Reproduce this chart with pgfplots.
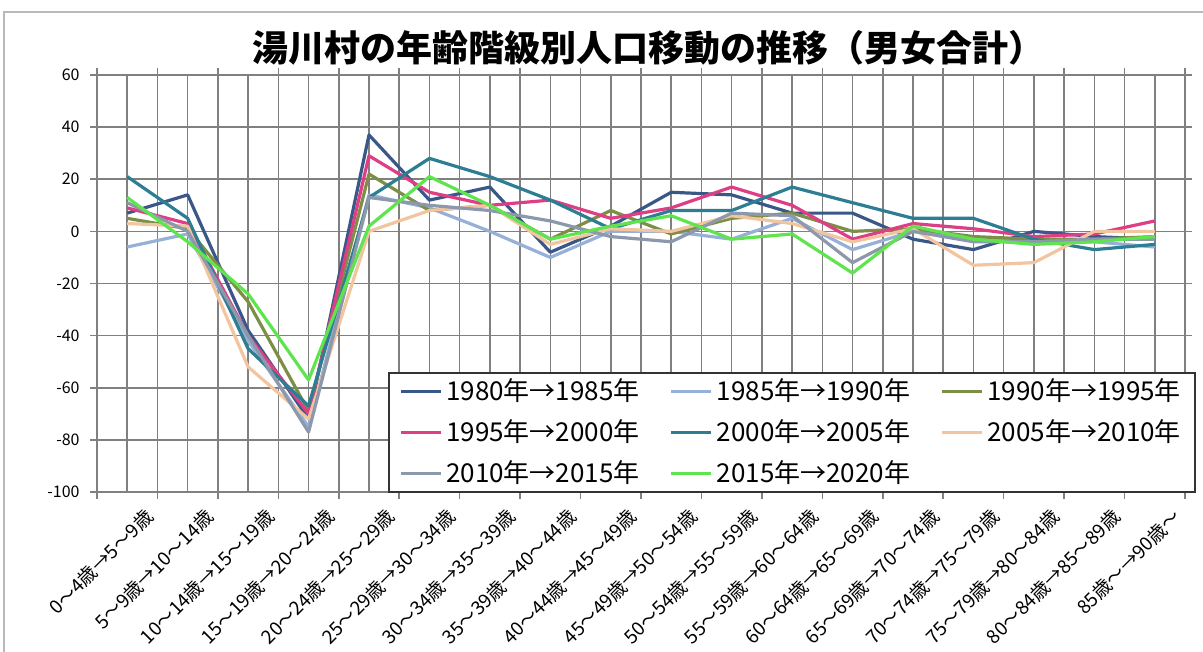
\documentclass[border=0pt]{standalone}
\usepackage{pgfplots}
\pgfplotsset{compat=1.18}
\usepackage{pgfplotstable}
\usepackage{fontspec}
\setmainfont{Noto Sans CJK JP}

\definecolor{cA}{RGB}{58,88,135}
\definecolor{cB}{RGB}{150,176,215}
\definecolor{cC}{RGB}{125,142,70}
\definecolor{cD}{RGB}{222,62,132}
\definecolor{cE}{RGB}{45,126,146}
\definecolor{cF}{RGB}{242,196,160}
\definecolor{cG}{RGB}{140,152,172}
\definecolor{cH}{RGB}{95,228,80}
\definecolor{gridc}{RGB}{128,128,128}

\pgfplotstableread{
x a b c d e f g h
0 7 -6 5 9 21 3 11 13
1 14 -1 1 3 5 2 0 -4
2 -38 -42 -27 -40 -45 -52 -40 -24
3 -72 -75 -69 -70 -67 -72 -77 -57
4 37 14 22 29 13 0 13 2
5 12 9 8 15 28 8 10 21
6 17 0 10 10 21 10 8 10
7 -8 -10 -3 12 12 -5 4 -3
8 2 0 8 5 1 1 -2 2
9 15 0 -1 9 8 0 -4 6
10 14 -3 5 17 8 6 7 -3
11 7 5 7 10 17 3 6 -1
12 7 -7 0 -3 11 -4 -12 -16
13 -3 0 1 3 5 1 0 2
14 -7 -3 -2 1 5 -13 -4 -3
15 0 -4 -3 -2 -3 -12 -4 -5
16 -2 -4 -3 -1 -7 0 -3 -4
17 -3 -6 -2 4 -5 0 -3 -2
}\data

\begin{document}
\begin{tikzpicture}
\path[use as bounding box] (0,0) rectangle (601.5pt,326pt);
\draw[gray!55, line width=1pt] (2pt,0) -- (2pt,320pt) -- (601.5pt,320pt);
\node[font=\bfseries\fontsize{18}{20}\selectfont] at (324pt,302pt) {湯川村の年齢階級別人口移動の推移（男女合計）};
\begin{axis}[
  at={(48.5pt,80pt)}, anchor=south west,
  scale only axis, width=544pt, height=208.5pt,
  xmin=-0.5, xmax=17.5, ymin=-100, ymax=60,
  xtick={0,...,17},
  minor xtick={-0.5,0.5,...,17.5},
  ytick={-100,-80,...,60},
  xticklabels={0～4歳→5～9歳,5～9歳→10～14歳,10～14歳→15～19歳,15～19歳→20～24歳,20～24歳→25～29歳,25～29歳→30～34歳,30～34歳→35～39歳,35～39歳→40～44歳,40～44歳→45～49歳,45～49歳→50～54歳,50～54歳→55～59歳,55～59歳→60～64歳,60～64歳→65～69歳,65～69歳→70～74歳,70～74歳→75～79歳,75～79歳→80～84歳,80～84歳→85～89歳,85歳～→90歳～},
  grid=both,
  major grid style={gridc, line width=0.8pt},
  minor grid style={gridc, line width=0.8pt},
  axis line style={gridc, line width=0.8pt},
  tick align=outside,
  major tick length=3.5pt, minor tick length=3.5pt,
  tick style={gridc, line width=0.8pt},
  xtick style={/pgfplots/major tick length=0pt},
  /pgf/number format/assume math mode=true,
  yticklabel style={font=\fontsize{8}{9}\selectfont, anchor=east, inner sep=0pt, xshift=-5pt},
  xticklabel style={font=\fontsize{9.5}{10}\selectfont, rotate=45, anchor=east, inner sep=0pt, yshift=-13pt, xshift=3pt},
  legend columns=3,
  legend cell align=left,
  legend image code/.code={\draw[#1] (0pt,0pt) -- (20pt,0pt);},
  legend style={at={(0.2675,0.2878)}, anchor=north west, draw=black!80, line width=0.9pt,
    font=\fontsize{13}{15}\selectfont, inner xsep=5pt, inner ysep=1pt, row sep=4pt,
    nodes={inner ysep=2pt},
    /tikz/every even column/.append style={column sep=13pt}},
  every axis plot/.append style={line width=1.6pt, line join=round},
]
\addplot[cA] table[x=x,y=a]{\data};
\addplot[cB] table[x=x,y=b]{\data};
\addplot[cC] table[x=x,y=c]{\data};
\addplot[cD] table[x=x,y=d]{\data};
\addplot[cE] table[x=x,y=e]{\data};
\addplot[cF] table[x=x,y=f]{\data};
\addplot[cG] table[x=x,y=g]{\data};
\addplot[cH] table[x=x,y=h]{\data};
\legend{1980年→1985年,1985年→1990年,1990年→1995年,1995年→2000年,2000年→2005年,2005年→2010年,2010年→2015年,2015年→2020年}
\end{axis}
\end{tikzpicture}
\end{document}
